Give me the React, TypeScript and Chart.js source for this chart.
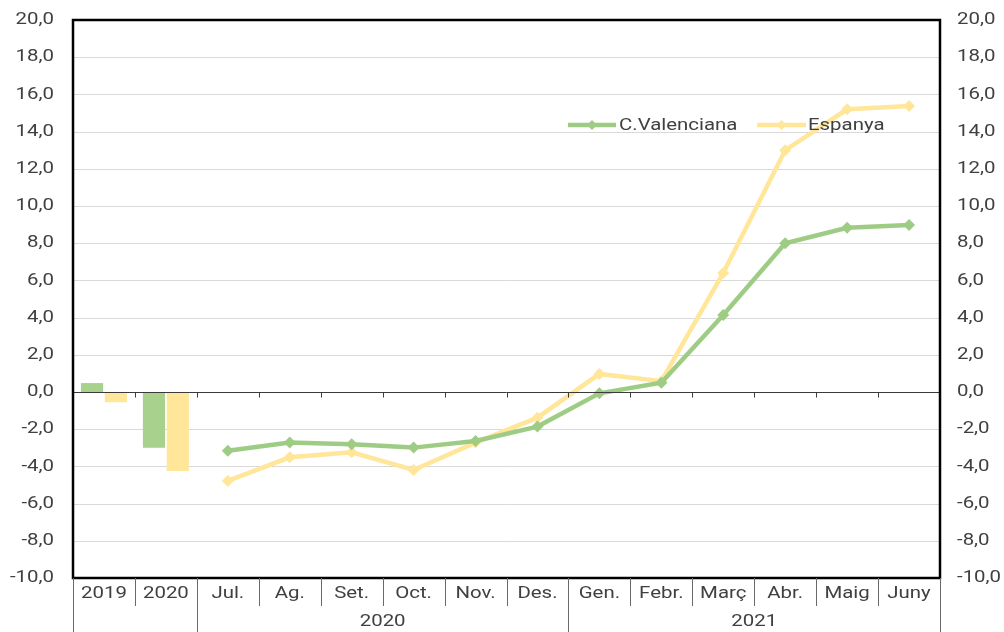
import React, { useEffect, useRef } from "react";
import { Chart, registerables } from "chart.js";

Chart.register(...registerables);

const categories = ["2019", "2020", "Jul.", "Ag.", "Set.", "Oct.", "Nov.", "Des.", "Gen.", "Febr.", "Març", "Abr.", "Maig", "Juny"];
const groupNames = ["2020", "2021"];
const groupStarts = [2, 8];
const groupEnds = [7, 13];
const seriesNames = ["C.Valenciana", "Espanya"];
const valencianaBars = [0.48, -3.0, null, null, null, null, null, null, null, null, null, null, null, null];
const espanyaBars = [-0.55, -4.25, null, null, null, null, null, null, null, null, null, null, null, null];
const valencianaLine = [null, null, -3.16, -2.72, -2.81, -2.99, -2.63, -1.86, -0.07, 0.5, 4.14, 8.0, 8.83, 8.98];
const espanyaLine = [null, null, -4.78, -3.51, -3.24, -4.19, -2.72, -1.38, 0.97, 0.58, 6.4, 13.0, 15.2, 15.38];
const yTicks = [-10, -8, -6, -4, -2, 0, 2, 4, 6, 8, 10, 12, 14, 16, 18, 20];

const GREEN = "#A9D18E";
const GREEN_LINE = "#9fcc85";
const YELLOW = "#FFE699";
const TEXT = "#404040";
const FONT = "17px Roboto";
const SX = 1.2;

function fmt(v: number) {
  return v.toFixed(1).replace(".", ",");
}

function drawText(ctx: CanvasRenderingContext2D, text: string, x: number, y: number, align: CanvasTextAlign) {
  ctx.save();
  ctx.translate(x, y);
  ctx.scale(SX, 1);
  ctx.font = FONT;
  ctx.fillStyle = TEXT;
  ctx.textAlign = align;
  ctx.textBaseline = "middle";
  ctx.fillText(text, 0, 0);
  ctx.restore();
}

function drawDiamond(ctx: CanvasRenderingContext2D, x: number, y: number, r: number, color: string) {
  ctx.beginPath();
  ctx.moveTo(x, y - r);
  ctx.lineTo(x + r, y);
  ctx.lineTo(x, y + r);
  ctx.lineTo(x - r, y);
  ctx.closePath();
  ctx.fillStyle = color;
  ctx.fill();
}

const customPlugin = {
  id: "custom",
  beforeDatasetsDraw(chart: any) {
    const { ctx, chartArea: a, scales } = chart;
    const y = scales.y;
    const x = scales.x;
    ctx.save();
    ctx.lineWidth = 1;
    ctx.strokeStyle = "#d9d9d9";
    yTicks.forEach((t) => {
      if (t === 0) return;
      const py = Math.round(y.getPixelForValue(t)) + 0.5;
      ctx.beginPath();
      ctx.moveTo(a.left, py);
      ctx.lineTo(a.right, py);
      ctx.stroke();
    });
    ctx.restore();
  },
  afterDatasetsDraw(chart: any) {
    const { ctx, chartArea: a, scales } = chart;
    const y = scales.y;
    const x = scales.x;
    const n = categories.length;
    const step = (a.right - a.left) / n;
    ctx.save();
    // zero line + ticks
    const y0 = Math.round(y.getPixelForValue(0)) + 0.5;
    ctx.strokeStyle = "#3a3a3a";
    ctx.lineWidth = 1;
    ctx.beginPath();
    ctx.moveTo(a.left, y0);
    ctx.lineTo(a.right, y0);
    ctx.stroke();
    for (let i = 1; i < n; i++) {
      const px = Math.round(x.getPixelForValue(i) - step / 2) + 0.5;
      ctx.beginPath();
      ctx.moveTo(px, y0);
      ctx.lineTo(px, y0 + 5);
      ctx.stroke();
    }
    // border
    ctx.strokeStyle = "#000";
    ctx.lineWidth = 2.5;
    ctx.strokeRect(a.left, a.top, a.right - a.left, a.bottom - a.top);
    // category separators below
    ctx.strokeStyle = "#6a6a6a";
    ctx.lineWidth = 1;
    const fullIdx = [0, 2, 8, 14];
    for (let i = 0; i <= n; i++) {
      const px = Math.round(a.left + i * step) + 0.5;
      const full = fullIdx.includes(i);
      ctx.beginPath();
      ctx.moveTo(px, a.bottom);
      ctx.lineTo(px, full ? 632 : a.bottom + 28);
      ctx.stroke();
    }
    // category labels
    categories.forEach((c, i) => {
      drawText(ctx, c, x.getPixelForValue(i), a.bottom + 16, "center");
    });
    groupNames.forEach((g, k) => {
      const cx = (x.getPixelForValue(groupStarts[k]) + x.getPixelForValue(groupEnds[k])) / 2;
      drawText(ctx, g, cx, a.bottom + 44, "center");
    });
    // y labels
    yTicks.forEach((t) => {
      const py = y.getPixelForValue(t);
      drawText(ctx, fmt(t), a.left - 19, py, "right");
      drawText(ctx, fmt(t), a.right + 17, py, "left");
    });
    // legend
    const ly = 125;
    const items = [
      { x1: 568, x2: 616, tx: 619, color: GREEN_LINE, label: seriesNames[0] },
      { x1: 757, x2: 806, tx: 808, color: YELLOW, label: seriesNames[1] },
    ];
    items.forEach((it) => {
      ctx.strokeStyle = it.color;
      ctx.lineWidth = 4.5;
      ctx.beginPath();
      ctx.moveTo(it.x1, ly);
      ctx.lineTo(it.x2, ly);
      ctx.stroke();
      drawDiamond(ctx, (it.x1 + it.x2) / 2, ly, 5, it.color);
      drawText(ctx, it.label, it.tx, ly + 1, "left");
    });
    ctx.restore();
  },
};

export default function App() {
  const ref = useRef<HTMLCanvasElement>(null);
  useEffect(() => {
    if (!ref.current) return;
    const chart = new Chart(ref.current, {
      type: "bar",
      data: {
        labels: categories,
        datasets: [
          {
            type: "line",
            label: seriesNames[1],
            data: espanyaLine,
            borderColor: YELLOW,
            backgroundColor: YELLOW,
            borderWidth: 4.5,
            pointStyle: "rectRot",
            pointRadius: 6,
            pointBorderWidth: 0,
            tension: 0,
            order: 1,
          },
          {
            type: "line",
            label: seriesNames[0],
            data: valencianaLine,
            borderColor: GREEN_LINE,
            backgroundColor: GREEN_LINE,
            borderWidth: 4.5,
            pointStyle: "rectRot",
            pointRadius: 6,
            pointBorderWidth: 0,
            tension: 0,
            order: 0,
          },
          {
            type: "bar",
            label: seriesNames[0] + " bar",
            data: valencianaBars,
            backgroundColor: GREEN,
            categoryPercentage: 0.77,
            barPercentage: 0.93,
            order: 3,
          },
          {
            type: "bar",
            label: seriesNames[1] + " bar",
            data: espanyaBars,
            backgroundColor: YELLOW,
            categoryPercentage: 0.77,
            barPercentage: 0.93,
            order: 3,
          },
        ] as any,
      },
      options: {
        animation: false,
        responsive: false,
        layout: { padding: { left: 73, right: 64, top: 20, bottom: 54 } },
        plugins: { legend: { display: false }, tooltip: { enabled: false } },
        scales: {
          x: { display: false, offset: true },
          y: { display: false, min: -10, max: 20 },
        },
      },
      plugins: [customPlugin],
    });
    return () => chart.destroy();
  }, []);
  return (
    <div style={{ position: "fixed", left: 0, top: 0, width: 1004, height: 632, background: "#fff" }}>
      <canvas ref={ref} width={1004} height={632} style={{ width: 1004, height: 632 }} />
    </div>
  );
}
